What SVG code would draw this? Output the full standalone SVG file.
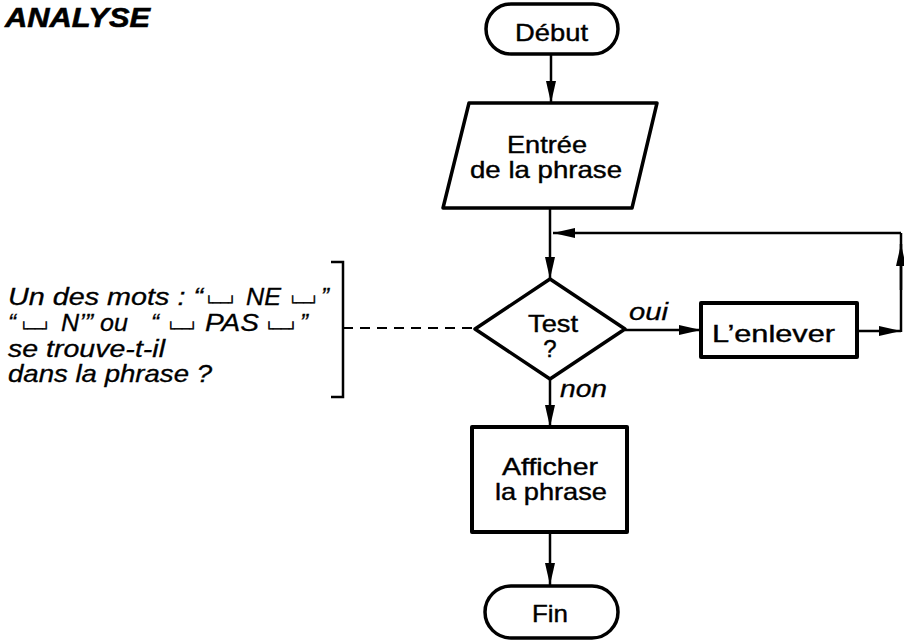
<svg xmlns="http://www.w3.org/2000/svg" width="904" height="641" viewBox="0 0 904 641">
<style>
.shape{fill:#fff;stroke:#000;stroke-width:3.5;stroke-linejoin:round}
.ln{fill:none;stroke:#000;stroke-width:2.5}
.dash{fill:none;stroke:#000;stroke-width:2;stroke-dasharray:10 7}
.lbl{font-family:"Liberation Sans",Arial,sans-serif;font-size:24px;fill:#000;stroke:#000;stroke-width:0.4}
.it{font-family:"Liberation Sans",Arial,sans-serif;font-size:24px;font-style:italic;fill:#000;stroke:#000;stroke-width:0.3}
.blank{font-family:"DejaVu Sans Mono","Liberation Mono",monospace;font-size:12px;fill:#000;stroke:#000;stroke-width:0.5}
.title{font-family:"Liberation Sans",Arial,sans-serif;font-size:28px;font-weight:bold;font-style:italic;fill:#000;stroke:#000;stroke-width:0.6}
</style>
<defs>
<marker id="ah" viewBox="0 0 22 10" refX="22" refY="5" markerWidth="22" markerHeight="10" markerUnits="userSpaceOnUse" orient="auto">
<path d="M0,0 L22,5 L0,10 Z" fill="#000"/>
</marker>
</defs>
<text class="title" x="5" y="27" textLength="145" lengthAdjust="spacingAndGlyphs">ANALYSE</text>

<g id="connectors">
<line class="ln" x1="551" y1="54" x2="551" y2="103" marker-end="url(#ah)"/>
<line class="ln" x1="550" y1="208" x2="550" y2="279" marker-end="url(#ah)"/>
<line class="ln" x1="901" y1="233" x2="553" y2="233" marker-end="url(#ah)"/>
<line class="ln" x1="901" y1="332" x2="901" y2="233"/>
<line class="ln" x1="901" y1="290" x2="901" y2="244" marker-end="url(#ah)"/>
<line class="ln" x1="625" y1="330" x2="701" y2="330" marker-end="url(#ah)"/>
<line class="ln" x1="857" y1="331" x2="901" y2="331" marker-end="url(#ah)"/>
<line class="ln" x1="550" y1="379" x2="550" y2="427" marker-end="url(#ah)"/>
<line class="ln" x1="550" y1="532" x2="550" y2="585" marker-end="url(#ah)"/>
<line class="dash" x1="343" y1="328" x2="475" y2="328"/>
<text class="it" x="629" y="320" textLength="39" lengthAdjust="spacingAndGlyphs">oui</text>
<text class="it" x="560" y="397" textLength="47" lengthAdjust="spacingAndGlyphs">non</text>
</g>

<g id="debut">
<rect class="shape" x="486" y="4" width="132" height="50" rx="25"/>
<text class="lbl" x="515" y="41" textLength="73" lengthAdjust="spacingAndGlyphs">Début</text>
</g>

<g id="entree">
<polygon class="shape" points="469,103 657,103 632,208 443,208"/>
<text class="lbl" x="507" y="153" textLength="80" lengthAdjust="spacingAndGlyphs">Entrée</text>
<text class="lbl" x="470" y="178" textLength="152" lengthAdjust="spacingAndGlyphs">de la phrase</text>
</g>

<g id="test">
<polygon class="shape" points="550,279 625,329 550,379 475,329"/>
<text class="lbl" x="528" y="332" textLength="50" lengthAdjust="spacingAndGlyphs">Test</text>
<text class="lbl" x="550" y="357" text-anchor="middle">?</text>
</g>

<g id="enlever">
<rect class="shape" x="701" y="303" width="156" height="54" style="stroke-width:4"/>
<text class="lbl" x="712" y="342" textLength="123" lengthAdjust="spacingAndGlyphs">L’enlever</text>
</g>

<g id="afficher">
<rect class="shape" x="472" y="427" width="155" height="105" style="stroke-width:4"/>
<text class="lbl" x="502" y="475" textLength="96" lengthAdjust="spacingAndGlyphs">Afficher</text>
<text class="lbl" x="495" y="500" textLength="112" lengthAdjust="spacingAndGlyphs">la phrase</text>
</g>

<g id="fin">
<rect class="shape" x="485" y="586" width="133" height="52" rx="26"/>
<text class="lbl" x="532" y="622" textLength="36" lengthAdjust="spacingAndGlyphs">Fin</text>
</g>

<g id="note">
<polyline class="ln" points="331,262 343,262 343,397 331,397"/>
<text class="it" x="8" y="305" textLength="195" lengthAdjust="spacingAndGlyphs">Un des mots : “</text>
<text class="blank" x="205" y="307" textLength="31" lengthAdjust="spacingAndGlyphs">└──┘</text>
<text class="it" x="246" y="305" textLength="35" lengthAdjust="spacingAndGlyphs">NE</text>
<text class="blank" x="289" y="307" textLength="29" lengthAdjust="spacingAndGlyphs">└──┘</text>
<text class="it" x="321" y="305">”</text>
<text class="it" x="8" y="331">“</text>
<text class="blank" x="20" y="333" textLength="30" lengthAdjust="spacingAndGlyphs">└──┘</text>
<text class="it" x="61" y="331" textLength="67" lengthAdjust="spacingAndGlyphs">N’” ou</text>
<text class="it" x="151" y="331">“</text>
<text class="blank" x="167" y="333" textLength="30" lengthAdjust="spacingAndGlyphs">└──┘</text>
<text class="it" x="205" y="331" textLength="54" lengthAdjust="spacingAndGlyphs">PAS</text>
<text class="blank" x="265" y="333" textLength="32" lengthAdjust="spacingAndGlyphs">└──┘</text>
<text class="it" x="300" y="331">”</text>
<text class="it" x="8" y="357" textLength="157" lengthAdjust="spacingAndGlyphs">se trouve-t-il</text>
<text class="it" x="8" y="382" textLength="204" lengthAdjust="spacingAndGlyphs">dans la phrase ?</text>
</g>
</svg>
